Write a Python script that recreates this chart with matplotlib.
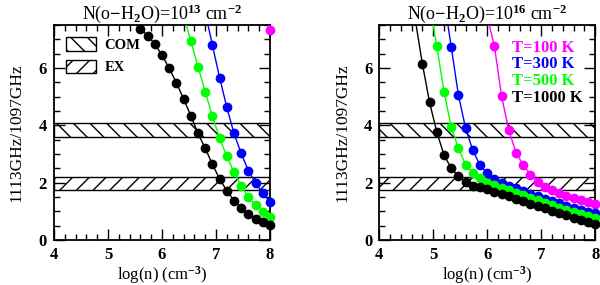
import matplotlib
matplotlib.use("Agg")
import matplotlib.pyplot as plt
from matplotlib.patches import Patch
import numpy as np

plt.rcParams['font.family'] = ['Liberation Serif', 'DejaVu Serif']
plt.rcParams['font.weight'] = 'bold'
plt.rcParams['mathtext.fontset'] = 'custom'
plt.rcParams['mathtext.rm'] = 'Liberation Serif:bold'
plt.rcParams['mathtext.default'] = 'rm'
plt.rcParams['hatch.linewidth'] = 1.0

# model grid in log(n)
log_n = np.linspace(4, 8, 31)

temps = ["T=100 K", "T=300 K", "T=500 K", "T=1000 K"]
colors = ["#ff00ff", "#0000ff", "#00ff00", "black"]

# N = 1e13 : ratios (series end at log n = 8)
left_T100 = [9.0, 7.33]
left_T300 = [7.95, 6.80, 5.67, 4.63, 3.72, 3.02, 2.42, 1.98, 1.63, 1.34]
left_T500 = [7.85, 6.94, 6.05, 5.17, 4.33, 3.55, 2.92, 2.36, 1.89, 1.49, 1.22, 0.97, 0.81]
left_T1000 = [7.62, 7.38, 7.13, 6.84, 6.45, 5.99, 5.49, 4.92, 4.34, 3.72, 3.20,
              2.64, 2.13, 1.72, 1.37, 1.13, 0.90, 0.73, 0.64, 0.52]

# N = 1e16
right_T100 = [7.8, 6.77, 5.01, 3.83, 3.05, 2.62, 2.28, 2.03, 1.86, 1.73, 1.63,
              1.55, 1.47, 1.40, 1.33, 1.26]
right_T300 = [8.4, 6.75, 5.06, 3.90, 3.13, 2.61, 2.32, 2.13, 2.00, 1.90, 1.80,
              1.71, 1.62, 1.53, 1.44, 1.36, 1.28, 1.20, 1.13, 1.06, 0.99, 0.93]
right_T500 = [8.23, 6.77, 5.18, 3.95, 3.20, 2.63, 2.34, 2.18, 2.00, 1.92, 1.83,
              1.74, 1.65, 1.56, 1.47, 1.38, 1.30, 1.21, 1.13, 1.05, 0.98, 0.90,
              0.83, 0.76]
right_T1000 = [7.7, 6.14, 4.80, 3.76, 2.97, 2.50, 2.23, 2.03, 1.90, 1.84, 1.77,
               1.69, 1.60, 1.52, 1.44, 1.35, 1.27, 1.18, 1.10, 1.02, 0.94, 0.86,
               0.78, 0.70, 0.62, 0.55]

# observed ranges
com_band = (3.60, 4.08)
ex_band = (1.76, 2.20)

titles = [r"N(o$-$H$_2$O)=10$^{13}$ cm$^{-2}$", r"N(o$-$H$_2$O)=10$^{16}$ cm$^{-2}$"]
ymax = 7.5

fig = plt.figure(figsize=(6.0, 2.85), dpi=100)
ax1 = fig.add_axes([0.09, 0.158, 0.36, 0.754])
ax2 = fig.add_axes([0.632, 0.158, 0.36, 0.754])

panels = [(ax1, [left_T100, left_T300, left_T500, left_T1000]),
          (ax2, [right_T100, right_T300, right_T500, right_T1000])]

for i, (ax, series) in enumerate(panels):
    ax.axhspan(com_band[0], com_band[1], facecolor='none', edgecolor='black',
               hatch='\\\\', lw=1.0, zorder=1)
    ax.axhspan(ex_band[0], ex_band[1], facecolor='none', edgecolor='black',
               hatch='//', lw=1.0, zorder=1)
    for vals, c in zip(series, colors):
        y = np.array(vals)
        x = log_n[-len(y):]
        ax.plot(x, y, color=c, lw=1.0, zorder=3)
        m = y <= ymax
        ax.plot(x[m], y[m], 'o', color=c, ms=6.0, mec=c, clip_on=False, zorder=4)
    ax.set_xlim(4, 8)
    ax.set_ylim(0, ymax)
    ax.set_xticks([4, 5, 6, 7, 8])
    ax.set_xticks(np.arange(4, 8.01, 0.2), minor=True)
    ax.set_yticks([0, 2, 4, 6])
    ax.set_yticks(np.arange(0, 7.51, 0.5), minor=True)
    ax.tick_params(which='both', direction='in', top=True, right=True, width=1.0,
                   labelsize=12)
    ax.tick_params(which='major', length=8, pad=5)
    ax.tick_params(which='minor', length=4)
    for s in ax.spines.values():
        s.set_linewidth(1.3)
    ax.set_xlabel(r"log(n) (cm$^{-3}$)", fontsize=12, labelpad=1)
    ax.set_ylabel("1113GHz/1097GHz", fontsize=12.5, labelpad=10)
    ax.set_title(titles[i], fontsize=13, pad=3)

handles = [Patch(facecolor='white', edgecolor='black', hatch='\\\\', lw=1.0, label='COM'),
           Patch(facecolor='white', edgecolor='black', hatch='//', lw=1.0, label='EX')]
ax1.legend(handles=handles, loc='upper left', frameon=False, fontsize=10.5,
           handlelength=2.0, handleheight=1.05, borderaxespad=0.45,
           labelspacing=0.5, handletextpad=0.6)

for j, (t, c) in enumerate(zip(temps, colors)):
    ax2.text(0.615, 0.895 - j * 0.078, t, color=c, fontsize=12,
             transform=ax2.transAxes, va='center', ha='left')

fig.savefig("out.png", dpi=100)
